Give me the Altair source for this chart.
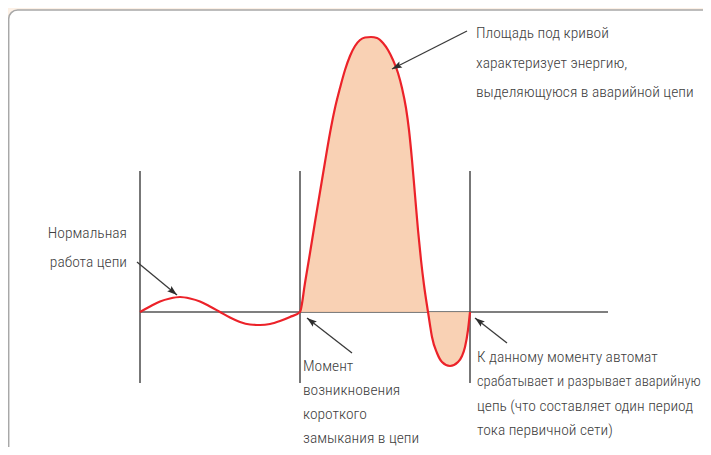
import math
import altair as alt
import pandas as pd

# ---------------- data (page-pixel coordinates) -------------
curve_x = [140, 150, 160, 170, 180, 190, 200, 210, 220, 230, 240, 250, 260, 270, 280, 290, 300,
           305, 310, 315, 320, 325, 330, 335, 340, 345, 350, 355, 360, 365, 371, 377, 383, 388,
           393, 398, 402, 406, 409, 412, 415, 418, 421, 424, 428,
           430, 432, 437, 442, 450, 458, 462, 465, 468, 470]
curve_y = [312, 306.5, 301.5, 298.5, 297, 298.5, 301.5, 306.5, 312, 317.5, 322, 324.5, 325, 324, 321, 317, 312,
           283, 253, 222, 192, 162, 133, 108, 88, 70, 56, 46, 40, 37.5, 37, 38, 43, 50,
           60, 73, 88, 108, 130, 160, 195, 230, 260, 285, 312,
           325, 337, 353, 362, 366, 362, 356, 347, 330, 312]
fault_start_x = 300
baseline_y = 312

vline_x = [140, 300, 470]
vline_top = 171
vline_bottom = 383
baseline_x = [140, 608]

arrow_tail_x = [137, 352, 507, 467]
arrow_tail_y = [262, 353, 343, 31]
arrow_tip_x = [177, 307, 475, 392]
arrow_tip_y = [295, 318, 318, 69]

label_text = [
    "Площадь под кривой", "характеризует энергию,", "выделяющуюся в аварийной цепи",
    "Нормальная", "работа цепи",
    "Момент", "возникновения", "короткого", "замыкания в цепи",
    "К данному моменту автомат", "срабатывает и разрывает аварийную",
    "цепь (что составляет один период", "тока первичной сети)",
]
label_x = [476, 476, 476, 127, 127, 303, 303, 303, 303, 477, 477, 477, 477]
label_y = [33, 63, 92, 233, 262, 366, 390, 414, 438, 357, 382, 406, 430]
label_align = ["left"] * 3 + ["right"] * 2 + ["left"] * 8

panel_x = [8.7, 760]
panel_y = [10, 520]

# ---------------- styling -------------
BG = "#FDF1E6"
FILL = "#F9CDAE"
RED = "#EC2229"
DARK = "#555555"
TEXT = "#404040"
FONT = "Roboto Condensed"
FONT_SIZE = 15.5
LONG_LINE_SIZE = 14.6  # the longest line must stay inside the page

W, H = 695, 439
xs = alt.Scale(domain=[8, 703], nice=False, zero=False)
ys = alt.Scale(domain=[8, 447], nice=False, zero=False, reverse=True)


def X(f="x"):
    return alt.X(f"{f}:Q", scale=xs, axis=None)


def Y(f="y"):
    return alt.Y(f"{f}:Q", scale=ys, axis=None)


panel_df = pd.DataFrame({"x": [panel_x[0]], "x2": [panel_x[1]], "y": [panel_y[0]], "y2": [panel_y[1]]})
panel = alt.Chart(panel_df).mark_rect(
    fill="white", stroke="#A8A8A8", strokeWidth=1.5, cornerRadius=9
).encode(x=X(), x2="x2:Q", y=Y(), y2="y2:Q")

vdf = pd.DataFrame({"x": vline_x, "y": [vline_top] * 3, "y2": [vline_bottom] * 3})
vlines = alt.Chart(vdf).mark_rule(color=DARK, strokeWidth=1.6).encode(x=X(), y=Y(), y2="y2:Q")

bdf = pd.DataFrame({"x": [baseline_x[0]], "x2": [baseline_x[1]], "y": [baseline_y]})
base = alt.Chart(bdf).mark_rule(color=DARK, strokeWidth=1.6).encode(x=X(), x2="x2:Q", y=Y())

cdf = pd.DataFrame({"x": curve_x, "y": curve_y})
fdf = cdf[cdf.x >= fault_start_x].copy()
fdf["y2"] = baseline_y
area = alt.Chart(fdf).mark_area(color=FILL, opacity=0.92, interpolate="monotone").encode(
    x=X(), y=Y(), y2="y2:Q")
line = alt.Chart(cdf).mark_line(color=RED, strokeWidth=2.2, interpolate="monotone").encode(
    x=X(), y=Y())

adf = pd.DataFrame({"x": arrow_tail_x, "y": arrow_tail_y, "x2": arrow_tip_x, "y2": arrow_tip_y})
adf["angle"] = [
    (math.degrees(math.atan2(tx - sx, -(ty - sy))) + 360) % 360
    for sx, sy, tx, ty in zip(arrow_tail_x, arrow_tail_y, arrow_tip_x, arrow_tip_y)
]
arrows = alt.Chart(adf).mark_rule(color="#3A3A3A", strokeWidth=1.3).encode(
    x=X(), y=Y(), x2="x2:Q", y2="y2:Q")
heads = alt.Chart(adf).mark_point(
    shape="M0,0 L-0.33,1 L0,0.82 L0.33,1 Z", filled=True, color="#2E2E2E", opacity=1, size=400
).encode(x=X("x2"), y=Y("y2"), angle=alt.Angle("angle:Q", scale=None))

tdf = pd.DataFrame({"t": label_text, "x": label_x, "y": label_y, "a": label_align})
tdf["fs"] = [LONG_LINE_SIZE if len(t) >= 33 else FONT_SIZE for t in label_text]
texts = []
for al in ["left", "right"]:
    texts.append(
        alt.Chart(tdf[tdf.a == al]).mark_text(
            align=al, baseline="middle", font=FONT, fontWeight=300, color=TEXT
        ).encode(x=X(), y=Y(), text="t:N", size=alt.Size("fs:Q", scale=None, legend=None))
    )

chart = alt.layer(panel, vlines, base, area, line, arrows, heads, *texts).properties(
    width=W, height=H, background=BG, padding=0, autosize=alt.AutoSizeParams(type="none")
).configure_view(stroke=None)

chart.save("out.html", embed_options={"renderer": "svg", "actions": False})
